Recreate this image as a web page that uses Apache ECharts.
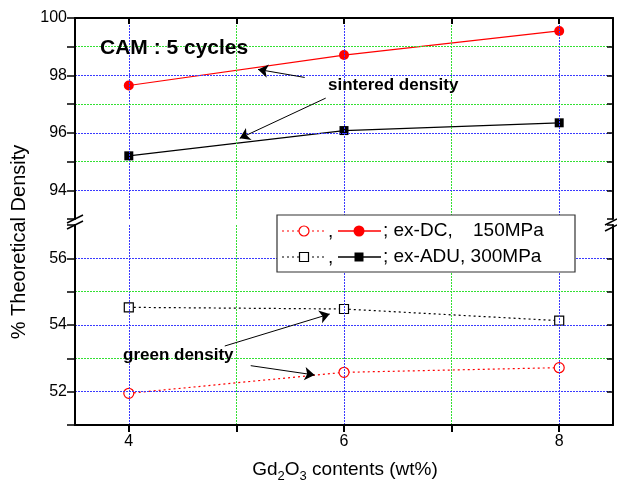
<!DOCTYPE html>
<html><head><meta charset="utf-8">
<script src="https://cdn.jsdelivr.net/npm/echarts@6/dist/echarts.min.js"></script>
<style>html,body{margin:0;padding:0;background:#fff}#c{width:617px;height:490px}</style>
</head><body><div id="c"></div>
<script>
// ---- data ----
const xValues = [4, 6, 8];
const dcSintered = [97.65, 98.71, 99.55];
const aduSintered = [95.2, 96.08, 96.35];
const dcGreen = [51.95, 52.58, 52.72];
const aduGreen = [54.53, 54.48, 54.13];
const xTickValues = [4, 5, 6, 7, 8];
const xLabelValues = [4, 6, 8];
const xMajorGrid = [4, 6, 8];
const xMinorGrid = [5, 7];
const upperLabels = [94, 96, 98, 100];
const upperMajorGrid = [94, 96, 98];
const upperMinorGrid = [95, 97, 99];
const lowerLabels = [52, 54, 56];
const lowerMajorGrid = [52, 54, 56];
const lowerMinorGrid = [53, 55];
const arrowsUpper = [[[5.635, 97.93], [5.201, 98.21]], [[5.83, 97.21], [5.031, 95.81]]];
const arrowsLower = [[[4.892, 53.37], [5.867, 54.33]], [[5.133, 52.78], [5.727, 52.50]]];

const FONT = 'Liberation Sans, Arial, sans-serif';
const BLUE = '#3a3aff', GREEN = '#33e033';
const pairs = ys => xValues.map((x, i) => [x, ys[i]]);
const arrowData = arr => arr.map(a => [{coord: a[0]}, {coord: a[1]}]);

const chart = echarts.init(document.getElementById('c'), null, {renderer: 'canvas'});

function xAx(grid, top) {
  return {
    type: 'value', gridIndex: grid, min: 3.5, max: 8.5, position: top ? 'top' : 'bottom',
    axisLine: {show: true, onZero: false, lineStyle: {color: '#000', width: 2}},
    axisTick: {show: true, inside: top, length: top ? 6 : 7, customValues: xTickValues, lineStyle: {color: '#000', width: 2}},
    axisLabel: {show: !top, customValues: xLabelValues, color: '#000', fontSize: 16, fontFamily: FONT, margin: 9},
    splitLine: {show: false}, z: 5
  };
}
function yAx(grid, min, max, labels, right) {
  return {
    type: 'value', gridIndex: grid, min: min, max: max, interval: 1, position: right ? 'right' : 'left',
    axisLine: {show: true, onZero: false, lineStyle: {color: '#000', width: 2}},
    axisTick: {show: true, inside: right, length: right ? 6 : 8, lineStyle: {color: '#000', width: 1.5}},
    axisLabel: {show: !right, color: '#000', fontSize: 16, fontFamily: FONT, margin: 8,
      formatter: v => labels.indexOf(v) >= 0 ? String(v) : ''},
    splitLine: {show: false}, z: 5
  };
}
const gl = (key, v, color) => ({[key]: v, lineStyle: {color: color, type: [2, 1], width: 1}});
function gridLines(xMaj, xMin, yMaj, yMin) {
  return [].concat(
    xMaj.map(v => gl('xAxis', v, BLUE)), xMin.map(v => gl('xAxis', v, GREEN)),
    yMaj.map(v => gl('yAxis', v, BLUE)), yMin.map(v => gl('yAxis', v, GREEN)));
}
const gridMarkLine = data => ({silent: true, symbol: ['none', 'none'], label: {show: false},
  emphasis: {disabled: true}, animation: false, data: data});

const arrowMarkLine = data => ({silent: true, symbol: ['none', 'arrow'], symbolSize: 10, label: {show: false},
  lineStyle: {color: '#000', type: 'solid', width: 1}, emphasis: {disabled: true}, data: data});

const option = {
  animation: false,
  backgroundColor: '#fff',
  grid: [
    {left: 75, right: 4, top: 18, height: 201},
    {left: 75, right: 4, top: 225, height: 200}
  ],
  xAxis: [xAx(0, true), xAx(1, false)],
  yAxis: [
    yAx(0, 93, 100, upperLabels, false),
    yAx(0, 93, 100, upperLabels, true),
    yAx(1, 51, 57, lowerLabels, false),
    yAx(1, 51, 57, lowerLabels, true)
  ],
  series: [
    {type: 'line', xAxisIndex: 0, yAxisIndex: 0, data: [], z: 1,
      markLine: gridMarkLine(gridLines(xMajorGrid, xMinorGrid, upperMajorGrid, upperMinorGrid))},
    {type: 'line', xAxisIndex: 1, yAxisIndex: 2, data: [], z: 1,
      markLine: gridMarkLine(gridLines(xMajorGrid, xMinorGrid, lowerMajorGrid, lowerMinorGrid))},
    {type: 'line', xAxisIndex: 0, yAxisIndex: 0, data: pairs(dcSintered), symbol: 'circle', symbolSize: 10, z: 3,
      lineStyle: {color: '#ff0000', width: 1.2}, itemStyle: {color: '#ff0000'},
      markLine: arrowMarkLine(arrowData(arrowsUpper))},
    {type: 'line', xAxisIndex: 0, yAxisIndex: 0, data: pairs(aduSintered), symbol: 'rect', symbolSize: 9, z: 3,
      lineStyle: {color: '#000', width: 1.2}, itemStyle: {color: '#000'}},
    {type: 'line', xAxisIndex: 1, yAxisIndex: 2, data: pairs(dcGreen), symbol: 'circle', symbolSize: 10, z: 3,
      lineStyle: {color: '#ff0000', width: 1.2, type: [2, 3]}, itemStyle: {color: '#fff', borderColor: '#ff0000', borderWidth: 1.2},
      markLine: arrowMarkLine(arrowData(arrowsLower))},
    {type: 'line', xAxisIndex: 1, yAxisIndex: 2, data: pairs(aduGreen), symbol: 'rect', symbolSize: 9, z: 3,
      lineStyle: {color: '#000', width: 1.2, type: [2, 3]}, itemStyle: {color: '#fff', borderColor: '#000', borderWidth: 1.2}}
  ]
};
chart.setOption(option);

// ---- annotations, legend, break marks ----
const txt = (x, y, s, size, bold) => ({type: 'text', x: x, y: y, z: 100,
  style: {text: s, fill: '#000', font: (bold ? 'bold ' : '') + size + 'px ' + FONT, textVerticalAlign: 'middle'}});
const ln = (x1, y1, x2, y2, color, dash, w) => ({type: 'line', z: 100,
  shape: {x1: x1, y1: y1, x2: x2, y2: y2}, style: {stroke: color, lineWidth: w || 1.2, lineDash: dash || null}});

const g = [];
g.push(txt(100, 48, 'CAM : 5 cycles', 21, true));
g.push(txt(328, 85, 'sintered density', 17, true));
g.push(txt(123, 355, 'green density', 17, true));
g.push({type: 'text', x: 19, y: 242, rotation: Math.PI / 2, z: 100,
  style: {text: '% Theoretical Density', fill: '#000', font: '20px ' + FONT, textAlign: 'center', textVerticalAlign: 'middle'}});
g.push({type: 'text', x: 345, y: 470, z: 100,
  style: {text: 'Gd{s|2}O{s|3} contents (wt%)', fill: '#000', font: '19px ' + FONT, textAlign: 'center', textVerticalAlign: 'middle',
    rich: {s: {fontSize: 13, fontFamily: FONT, padding: [12, 0, 0, 0]}}}});
g.push({type: 'rect', z: 99, shape: {x: 277, y: 215, width: 298, height: 57},
  style: {fill: '#fff', stroke: '#333', lineWidth: 1.2}});
const rows = [
  {y: 231, color: '#ff0000', shape: 'circle', text1: '; ex-DC,', text2: '150MPa'},
  {y: 257, color: '#000', shape: 'rect', text1: '; ex-ADU, 300MPa', text2: ''}
];
rows.forEach(r => {
  g.push(ln(282, r.y, 325, r.y, r.color, [2, 3]));
  g.push(ln(338, r.y, 381, r.y, r.color, null, 1.4));
  if (r.shape === 'circle') {
    g.push({type: 'circle', z: 101, shape: {cx: 304, cy: r.y, r: 5}, style: {fill: '#fff', stroke: r.color, lineWidth: 1.2}});
    g.push({type: 'circle', z: 101, shape: {cx: 359, cy: r.y, r: 5.5}, style: {fill: r.color}});
  } else {
    g.push({type: 'rect', z: 101, shape: {x: 299.5, y: r.y - 4.5, width: 9, height: 9}, style: {fill: '#fff', stroke: r.color, lineWidth: 1.2}});
    g.push({type: 'rect', z: 101, shape: {x: 354.5, y: r.y - 4.5, width: 9, height: 9}, style: {fill: r.color}});
  }
  g.push(txt(328, r.y + 1, ',', 19, false));
  g.push(txt(383, r.y, r.text1, 19, false));
  if (r.text2) g.push(txt(473, r.y, r.text2, 19, false));
});
g.push(ln(67, 223, 83, 215, '#000', null, 1.5));
g.push(ln(67, 229, 83, 221, '#000', null, 1.5));
g.push(ln(605, 225, 617, 219, '#000', null, 1.5));
g.push(ln(605, 231, 617, 225, '#000', null, 1.5));
chart.setOption({graphic: g});
</script>
</body></html>
